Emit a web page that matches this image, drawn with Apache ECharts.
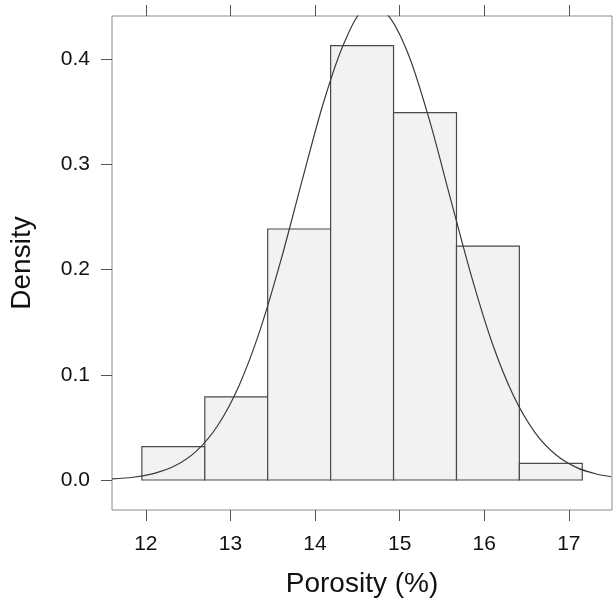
<!DOCTYPE html>
<html>
<head>
<meta charset="utf-8">
<script src="https://cdn.jsdelivr.net/npm/echarts@6/dist/echarts.min.js"></script>
<style>
  html, body { margin: 0; padding: 0; background: #fff; }
  #chart { width: 613px; height: 603px; }
</style>
</head>
<body>
<div id="chart"></div>
<script>
// histogram bins (edges in %, density per bin)
var binEdges = [11.953, 12.697, 13.44, 14.184, 14.928, 15.672, 16.415, 17.159];
var binDensity = [0.0317, 0.079, 0.2385, 0.4127, 0.349, 0.2223, 0.0158];

// fitted density curve
var curveX = [11.6, 11.85, 12.1, 12.35, 12.6, 12.85, 13.1, 13.35, 13.6, 13.85, 14.1, 14.35,
              14.6, 14.85, 15.1, 15.35, 15.6, 15.85, 16.1, 16.35, 16.6, 16.85, 17.1, 17.35, 17.5];
var curveY = [0.001, 0.0026, 0.0063, 0.0137, 0.0277, 0.0518, 0.0894, 0.1424, 0.2098, 0.2854, 0.3587, 0.4165,
              0.4467, 0.4426, 0.4051, 0.3426, 0.2676, 0.1932, 0.1287, 0.0793, 0.0451, 0.0237, 0.0115, 0.0052, 0.0031];

var xTicks = [12, 13, 14, 15, 16, 17];
var yTicks = [0, 0.1, 0.2, 0.3, 0.4];

var fontFam = '"Liberation Sans", Arial, Helvetica, sans-serif';

var bars = [];
for (var i = 0; i < binDensity.length; i++) {
    bars.push([binEdges[i], binEdges[i + 1], binDensity[i]]);
}
var curve = curveX.map(function (x, i) { return [x, curveY[i]]; });

var myChart = echarts.init(document.getElementById('chart'));
var option = {
    animation: false,
    backgroundColor: '#fff',
    grid: {
        left: 112, top: 16, right: 1, bottom: 93,
        outerBoundsMode: 'none',
        containLabel: false,
        show: true,
        borderColor: '#8a8a8a',
        borderWidth: 1
    },
    xAxis: [{
        type: 'value',
        min: 11.6, max: 17.51,
        name: 'Porosity (%)',
        nameLocation: 'middle',
        nameGap: 60,
        nameTextStyle: { fontFamily: fontFam, fontSize: 28, color: '#111' },
        axisLine: { show: false, onZero: false },
        splitLine: { show: false },
        axisTick: { show: true, length: 11, customValues: xTicks, lineStyle: { color: '#555' } },
        axisLabel: { customValues: xTicks, margin: 24, fontFamily: fontFam, fontSize: 21, color: '#111' }
    }, {
        type: 'value',
        position: 'top',
        min: 11.6, max: 17.51,
        axisLine: { show: false, onZero: false },
        splitLine: { show: false },
        axisTick: { show: true, length: 11, customValues: xTicks, lineStyle: { color: '#555' } },
        axisLabel: { show: false }
    }],
    yAxis: {
        type: 'value',
        min: -0.0285, max: 0.4409,
        name: 'Density',
        nameLocation: 'middle',
        nameRotate: 90,
        nameGap: 76,
        nameTextStyle: { fontFamily: fontFam, fontSize: 28, color: '#111' },
        axisLine: { show: false, onZero: false },
        splitLine: { show: false },
        axisTick: { show: true, length: 11, customValues: yTicks, lineStyle: { color: '#555' } },
        axisLabel: {
            customValues: yTicks, margin: 22, fontFamily: fontFam, fontSize: 21, color: '#111',
            formatter: function (v) { return v.toFixed(1); }
        }
    },
    series: [{
        type: 'custom',
        data: bars,
        renderItem: function (params, api) {
            var p0 = api.coord([api.value(0), 0]);
            var p1 = api.coord([api.value(1), api.value(2)]);
            return {
                type: 'rect',
                shape: { x: p0[0], y: p1[1], width: p1[0] - p0[0], height: p0[1] - p1[1] },
                style: { fill: '#f2f2f2', stroke: '#4a4a4a', lineWidth: 1.2 }
            };
        }
    }, {
        type: 'line',
        data: curve,
        smooth: 0.3,
        symbol: 'none',
        clip: true,
        lineStyle: { color: '#3a3a3a', width: 1.2 },
        z: 3
    }]
};
myChart.setOption(option);
</script>
</body>
</html>
